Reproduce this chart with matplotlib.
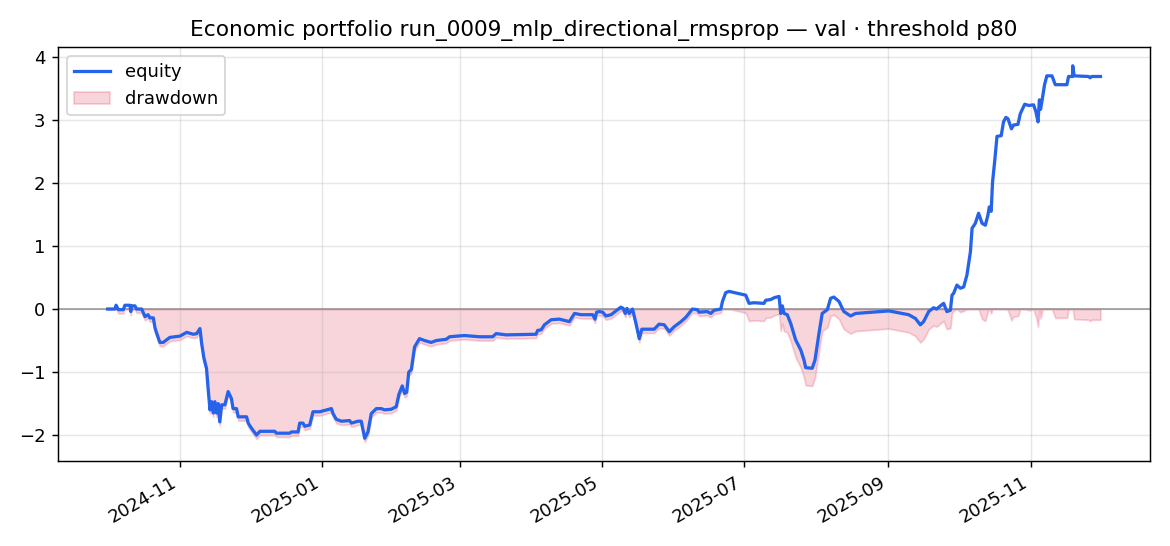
import numpy as np
import pandas as pd
import matplotlib
matplotlib.use("Agg")
import matplotlib.pyplot as plt

title = "Economic portfolio run_0009_mlp_directional_rmsprop \u2014 val \u00b7 threshold p80"
start_date = "2024-10-01"

# days since start_date
days = [
    0.0, 3.1, 3.6, 4.6, 6.7, 7.4, 9.6, 9.9, 10.3, 11.7, 12.4, 14.6, 16.0, 17.3, 18.1,
    19.6, 20.3, 21.0, 22.4, 23.8, 26.7, 28.9, 31.0, 33.9, 36.7, 38.2, 39.6, 40.3, 41.3,
    42.4, 43.1, 43.9, 44.6, 45.3, 46.0, 46.7, 47.4, 48.1, 48.9, 50.3, 51.7, 53.1, 53.8,
    55.3, 56.0, 59.6, 60.3, 61.7, 63.9, 65.3, 71.7, 72.4, 78.1, 78.9, 81.7, 82.4, 83.8,
    84.6, 86.7, 88.1,
    91.0, 93.9, 96.0, 96.7, 98.1, 100.3, 103.8, 104.6, 107.4, 108.8, 110.3, 111.7, 113.1,
    115.3, 117.4, 118.8, 121.7, 123.8, 125.0, 126.4, 127.4, 128.3, 129.2, 130.3, 131.7,
    133.8, 136.0, 138.8, 141.0, 145.3, 146.7, 153.1, 159.5, 165.2, 166.7, 171.0,
    183.8, 184.5, 186.0, 187.4, 190.3, 193.8, 198.1, 200.3, 203.1, 208.1, 209.1, 209.8,
    210.9, 212.4, 213.8, 216.0, 218.1, 220.2, 221.2, 222.1, 222.8, 223.8, 225.2, 226.7,
    228.1, 229.2, 231.6, 234.5, 236.6, 238.8, 241.0, 243.1, 246.0, 248.1, 250.9, 253.0,
    253.8,
    257.2, 258.8, 260.2, 263.1, 263.8, 265.2, 266.6, 273.8, 275.2, 277.3, 281.6, 282.4,
    284.5, 286.0, 288.1, 288.8, 289.5, 290.2, 291.6, 293.1, 295.2, 297.4, 298.8, 299.5,
    302.3, 303.5, 305.2, 306.6, 308.8, 310.2, 311.6, 313.8, 315.9, 318.8, 320.9, 328.0,
    335.2, 339.4, 343.7, 346.6,
    348.7, 350.1, 352.3, 354.4, 355.7, 357.3, 358.7, 360.1, 361.6, 362.3, 363.0, 364.4,
    365.9, 367.3, 368.7, 370.2, 370.9, 372.3, 373.7, 375.2, 376.6, 377.7, 378.3, 379.1,
    379.7, 380.6, 381.6, 383.4, 384.4, 385.4, 386.3, 387.8, 388.7, 390.6, 391.6, 393.5,
    395.2, 397.3, 398.3, 399.2, 399.8, 400.3, 401.2, 402.0, 403.0, 405.2, 406.6, 411.6,
    412.3, 414.0, 414.1, 414.7, 420.8, 421.6, 422.2, 426.0,
]

equity = [
    0.00, 0.00, 0.06, -0.01, -0.01, 0.06, 0.06, -0.04, 0.05, 0.05, 0.00, 0.00, -0.12, -0.09, -0.14,
    -0.14, -0.30, -0.38, -0.53, -0.53, -0.45, -0.44, -0.43, -0.37, -0.40, -0.39, -0.31, -0.54, -0.78,
    -0.94, -1.26, -1.60, -1.47, -1.65, -1.47, -1.65, -1.50, -1.79, -1.52, -1.52, -1.31, -1.42, -1.58,
    -1.58, -1.71, -1.71, -1.81, -1.89, -2.00, -1.94, -1.94, -1.97, -1.97, -1.95, -1.95, -1.81, -1.81,
    -1.86, -1.84, -1.63,
    -1.63, -1.60, -1.58, -1.66, -1.75, -1.78, -1.77, -1.81, -1.78, -1.78, -2.05, -1.95, -1.66,
    -1.58, -1.58, -1.60, -1.59, -1.55, -1.35, -1.22, -1.34, -1.32, -1.00, -0.96, -0.60,
    -0.47, -0.50, -0.53, -0.50, -0.48, -0.44, -0.42, -0.44, -0.44, -0.39, -0.41,
    -0.40, -0.34, -0.33, -0.25, -0.17, -0.16, -0.20, -0.07, -0.09, -0.09, -0.16, -0.05,
    -0.04, -0.05, -0.11, -0.09, -0.03, 0.03, 0.01, -0.07, 0.01, -0.07, 0.00, -0.23,
    -0.47, -0.32, -0.32, -0.32, -0.24, -0.25, -0.36, -0.28, -0.20, -0.13, 0.00, -0.01,
    -0.05,
    -0.04, -0.07, -0.02, 0.00, 0.12, 0.26, 0.28, 0.22, 0.09, 0.10, 0.09, 0.14,
    0.15, 0.18, 0.20, -0.07, 0.05, -0.07, -0.09, -0.23, -0.49, -0.65, -0.81, -0.93,
    -0.94, -0.81, -0.39, -0.07, -0.01, 0.17, 0.19, 0.12, -0.04, -0.11, -0.07, -0.05,
    -0.03, -0.06, -0.09, -0.15,
    -0.25, -0.20, -0.04, 0.02, 0.00, 0.05, 0.09, -0.04, -0.02, 0.22, 0.25, 0.38,
    0.33, 0.35, 0.54, 0.91, 1.28, 1.36, 1.52, 1.36, 1.33, 1.49, 1.62, 1.55,
    2.02, 2.34, 2.74, 2.75, 2.97, 3.04, 3.02, 2.86, 2.92, 2.93, 3.10, 3.25,
    3.23, 3.24, 3.13, 2.97, 3.32, 3.17, 3.37, 3.56, 3.70, 3.70, 3.56, 3.56,
    3.69, 3.69, 3.86, 3.70, 3.69, 3.67, 3.69, 3.69,
]

dates = pd.Timestamp(start_date) + pd.to_timedelta(days, unit="D")
eq = np.array(equity)
drawdown = eq - np.maximum.accumulate(eq)

fig, ax = plt.subplots(figsize=(9, 4.2), dpi=130)
ax.plot(dates, eq, color="#2563eb", lw=1.8, label="equity", zorder=3)
ax.fill_between(dates, drawdown, 0, color="crimson", alpha=0.18, label="drawdown")
ax.axhline(0, color="gray", lw=0.9, alpha=0.8)
ax.grid(alpha=0.3)
ax.legend(loc="upper left")
ax.set_title(title)
fig.autofmt_xdate()
fig.subplots_adjust(left=0.0496, right=0.983, top=0.914, bottom=0.156)
fig.savefig("out.png")
